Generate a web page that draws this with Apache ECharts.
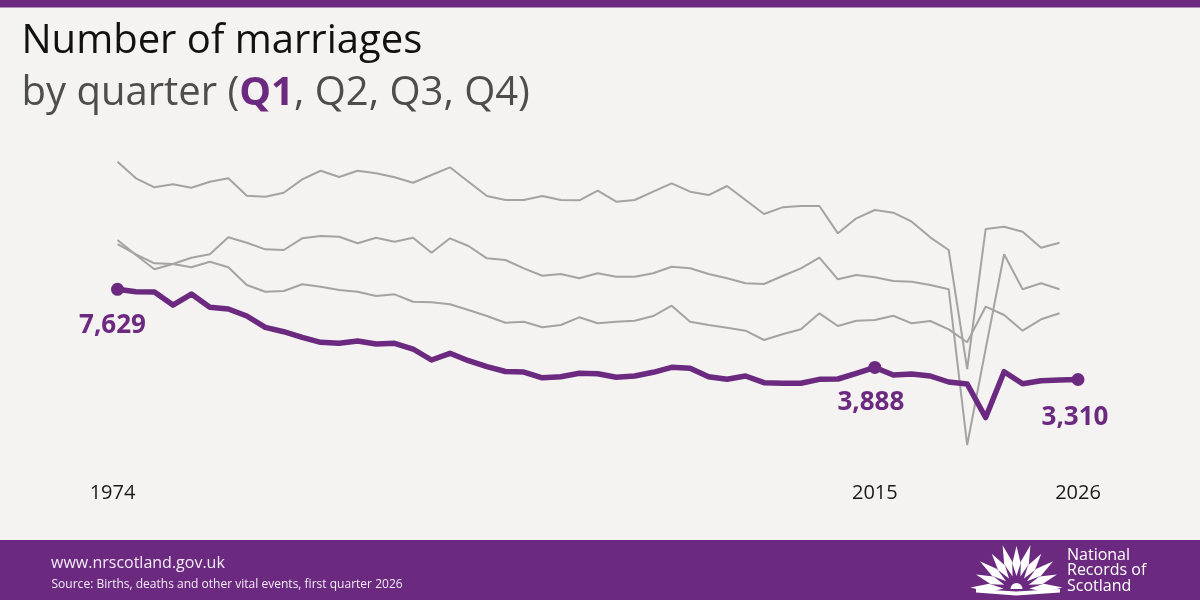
<!DOCTYPE html>
<html><head><meta charset="utf-8">
<script src="https://cdn.jsdelivr.net/npm/echarts@6/dist/echarts.min.js"></script>
<style>html,body{margin:0;padding:0;background:#f4f3f1}#c{width:1200px;height:600px}</style>
</head><body><div id="c"></div>
<script>
const years = ['1974','1975','1976','1977','1978','1979','1980','1981','1982','1983','1984','1985','1986','1987','1988','1989','1990','1991','1992','1993','1994','1995','1996','1997','1998','1999','2000','2001','2002','2003','2004','2005','2006','2007','2008','2009','2010','2011','2012','2013','2014','2015','2016','2017','2018','2019','2020','2021','2022','2023','2024','2025','2026'];
const tickLabels = ['1974','2015','2026'];
const q1 = [7629,7515,7501,6878,7405,6768,6687,6352,5810,5600,
            5331,5092,5044,5154,5010,5044,4771,4244,4565,4210,
            3923,3693,3669,3391,3444,3607,3588,3415,3478,3655,
            3894,3846,3444,3319,3478,3157,3128,3128,3319,3334,
            3607,3888,3525,3573,3478,3190,3094,1490,3684,3109,
            3252,3286,3310];
const q2 = [9992,9273,8588,8842,9144,9307,10121,9863,9546,9513,
            10073,10184,10150,9834,10102,9911,10102,9384,10073,9705,
            9115,9034,8636,8282,8363,8157,8397,8234,8234,8397,
            8713,8636,8363,8157,7918,7884,8268,8636,9144,8109,
            8315,8205,8028,7995,7836,7630,172,4771,9307,7630,
            7918,7630,null];
const q3 = [13743,12947,12516,12660,12497,12785,12947,12114,12066,12258,
            12899,13311,13010,13311,13187,12995,12737,13105,13474,12785,
            12100,11908,11908,12100,11908,11893,12353,11827,11908,12306,
            12708,12306,12147,12579,11908,11237,11558,11621,11621,10313,
            11031,11429,11300,10869,10121,9513,3813,10519,10629,10390,
            9623,9863,null];
const q4 = [9800,9307,8876,8842,8684,8953,8684,7836,7515,7549,
            7870,7755,7597,7515,7310,7391,7037,7008,6912,6639,
            6352,6031,6079,5810,5920,6289,6002,6079,6126,6352,
            6845,6079,5920,5791,5647,5202,5475,5714,6481,5873,
            6126,6160,6366,6002,6112,5714,5092,6797,6399,5647,
            6193,6481,null];
const labelled = {'1974':[-5,36], '2015':[-4,35], '2026':[-3,38]};

const PURPLE = '#6b2a80';
const GREY = '#a3a3a3';
const FONT = '"Open Sans", "Noto Sans", sans-serif';

const q1Data = q1.map((v, i) => {
  const off = labelled[years[i]];
  if (!off) return v;
  return {
    value: v, symbol: 'circle', symbolSize: 13,
    label: { show: true, position: 'inside', offset: off,
      formatter: p => p.value.toLocaleString('en-GB'),
      fontFamily: FONT, fontWeight: 'bold', fontSize: 26, color: PURPLE }
  };
});

function greySeries(name, data) {
  return { name, type: 'line', data, symbol: 'none', silent: true,
    lineStyle: { color: GREY, width: 2 }, itemStyle: { color: GREY }, z: 2 };
}

// logo: fan of leaves over an open book
const logo = [];
const cx = 1016.5, cy = 589;
for (let k = 0; k < 11; k++) {
  const a = -88 + k * 17.6;
  const len = (k % 2 === 0) ? 46 : 43;
  logo.push({ type: 'polygon', x: cx, y: cy, rotation: -a * Math.PI / 180, silent: true,
    shape: { points: [[0,-13],[4.2,-len*0.6],[0,-len],[-4.2,-len*0.6]] },
    style: { fill: '#ffffff' } });
}
logo.push({ type: 'polygon', silent: true,
  shape: { points: [[976,589],[1016,591.5],[1060,589],[1060,592.5],[1016,595.5],[976,592.5]] },
  style: { fill: '#ffffff' } });
logo.push({ type: 'sector', silent: true,
  shape: { cx: cx, cy: cy, r: 6, startAngle: Math.PI, endAngle: 2 * Math.PI },
  style: { fill: '#ffffff' } });

const option = {
  animation: false,
  backgroundColor: '#f4f3f1',
  grid: { left: 117.5, right: 122, top: 114.6, bottom: 151.4, containLabel: false },
  xAxis: {
    type: 'category', data: years, boundaryGap: false,
    axisLine: { show: false }, axisTick: { show: false }, splitLine: { show: false },
    axisLabel: { interval: (idx, val) => tickLabels.includes(val), margin: 35,
      formatter: v => v === '1974' ? '{l|' + v + '}' : v,
      rich: { l: { fontFamily: FONT, fontSize: 20, color: '#1a1a1a', padding: [0, 10, 0, 0] } },
      fontFamily: FONT, fontSize: 20, color: '#1a1a1a' }
  },
  yAxis: { type: 'value', min: 0, max: 16000, show: false },
  series: [
    greySeries('Q2', q2),
    greySeries('Q3', q3),
    greySeries('Q4', q4),
    { name: 'Q1', type: 'line', data: q1Data, symbol: 'none', showSymbol: true, showAllSymbol: true,
      lineStyle: { color: PURPLE, width: 5.5, join: 'round' }, itemStyle: { color: PURPLE }, z: 3 }
  ],
  graphic: { elements: [
    { type: 'rect', shape: { x: 0, y: 0, width: 1200, height: 7.5 }, style: { fill: PURPLE }, silent: true },
    { type: 'rect', shape: { x: 0, y: 540, width: 1200, height: 60 }, style: { fill: PURPLE }, silent: true },
    { type: 'text', x: 21.5, y: 42, silent: true,
      style: { text: 'Number of marriages', font: '40px ' + FONT, fill: '#111111', align: 'left', verticalAlign: 'middle' } },
    { type: 'text', x: 21.5, y: 94, silent: true,
      style: { text: '{a|by quarter (}{b|Q1}{a|, Q2, Q3, Q4)}', align: 'left', verticalAlign: 'middle',
        rich: {
          a: { fontFamily: FONT, fontSize: 40, fill: '#4d4d4d' },
          b: { fontFamily: FONT, fontSize: 40, fontWeight: 'bold', fill: PURPLE }
        } } },
    { type: 'text', x: 51, y: 563.5, silent: true,
      style: { text: 'www.nrscotland.gov.uk', font: '16px ' + FONT, fill: '#f3ecf5', align: 'left', verticalAlign: 'middle' } },
    { type: 'text', x: 51.5, y: 584.2, scaleX: 0.925, silent: true,
      style: { text: 'Source: Births, deaths and other vital events, first quarter 2026', font: '13px ' + FONT, fill: '#f3ecf5', align: 'left', verticalAlign: 'middle' } },
    { type: 'text', x: 1067, y: 547.5, silent: true,
      style: { text: 'National\nRecords of\nScotland', font: '16px ' + FONT, lineHeight: 15.5, fill: '#ffffff', align: 'left', verticalAlign: 'top' } }
  ].concat(logo) }
};

const chart = echarts.init(document.getElementById('c'), null, { renderer: 'canvas' });
chart.setOption(option);
</script></body></html>
